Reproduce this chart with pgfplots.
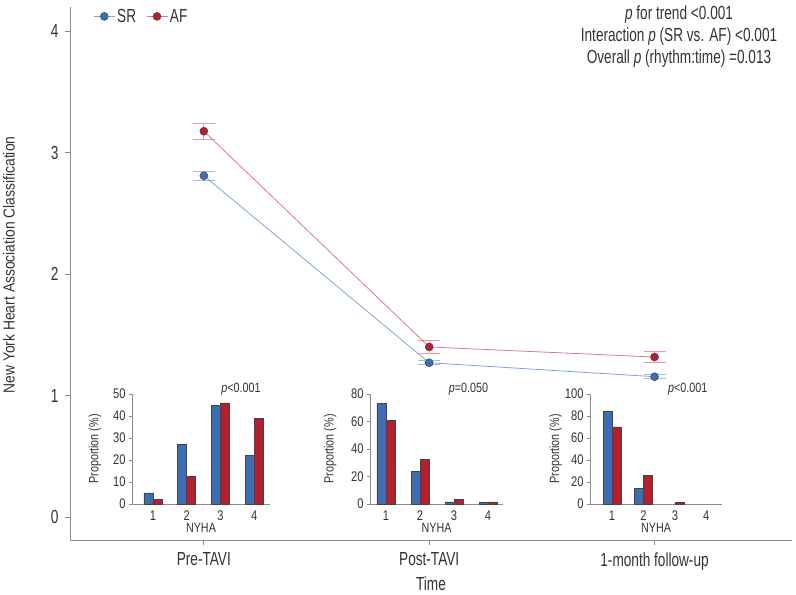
\documentclass[border=0pt]{standalone}
\usepackage{fontspec}
\setmainfont{Liberation Sans}[FakeStretch=0.72]
\newfontfamily\insetfont{Liberation Sans}[FakeStretch=0.8]
\newfontfamily\ylabfont{Liberation Sans}[FakeStretch=0.87]
\usepackage{pgfplots}
\pgfplotsset{compat=1.18}
\definecolor{srfill}{HTML}{3D6DB3}
\definecolor{affill}{HTML}{B5202E}
\definecolor{srline}{HTML}{7FA6DA}
\definecolor{afline}{HTML}{E07882}
\definecolor{srerr}{HTML}{9DBCE6}
\definecolor{aferr}{HTML}{EE9AA2}
\definecolor{axgray}{HTML}{8C8C8C}
\definecolor{txt}{HTML}{333333}
\definecolor{edge}{HTML}{444444}

\pgfplotstableread{
x y e
1 2.810 0.037
2 1.270 0.018
3 1.155 0.017
}\srdata
\pgfplotstableread{
x y e
1 3.177 0.067
2 1.400 0.050
3 1.317 0.045
}\afdata

\tikzset{pnode/.style={font=\insetfont\fontsize{13.5}{14}\selectfont, text=txt}}
\pgfplotsset{
  insetstyle/.style={
    anchor=south west, scale only axis, height=110bp,
    ymin=0, axis lines=left, axis line style={-, axgray},
    xtick={1,2,3,4}, xtick style={draw=none},
    ytick style={axgray}, tick align=outside, major tick length=3bp,
    ticklabel style={font=\insetfont\fontsize{14}{15}\selectfont, text=txt},
    /pgf/number format/assume math mode=true,
    xlabel={NYHA}, ylabel={Proportion (\%)},
    label style={font=\insetfont\fontsize{13.5}{14}\selectfont, text=txt},
    xlabel style={at={(axis description cs:0.5,-0.218)}, anchor=center},
    ybar=0pt, bar width=9bp,
    clip=false,
  },
  srbar/.style={fill=srfill, draw=edge, line width=0.4bp},
  afbar/.style={fill=affill, draw=edge, line width=0.4bp},
}

\begin{document}
\begin{tikzpicture}
\useasboundingbox (0,0) rectangle (796bp,595bp);
\begin{axis}[
  at={(70bp,55bp)}, anchor=south west, scale only axis,
  width=722bp, height=533bp,
  xmin=0.406, xmax=3.61, ymin=-0.19, ymax=4.2,
  axis lines=left, axis line style={-, axgray, line width=0.8bp},
  xtick={1,2,3}, xticklabels={Pre-TAVI, Post-TAVI, 1-month follow-up},
  ytick={0,1,2,3,4},
  tick style={axgray, line width=0.8bp}, tick align=outside, major tick length=5bp,
  ticklabel style={font=\fontsize{19}{21}\selectfont, text=txt},
  xticklabel style={yshift=-4bp},
  yticklabel style={xshift=-3bp},
  /pgf/number format/assume math mode=true,
  xlabel={Time}, ylabel={\ylabfont New York Heart Association Classification},
  label style={font=\fontsize{19}{21}\selectfont, text=txt},
  xlabel style={at={(axis description cs:0.5,-0.0826)}, anchor=center},
  ylabel style={at={(axis description cs:-0.0845,0.516)}, anchor=center,
    font=\ylabfont\fontsize{16}{18}\selectfont},
  legend columns=2,
  legend style={draw=none, fill=none, at={(0.028,1.004)}, anchor=north west,
    font=\fontsize{19}{21}\selectfont, text=txt,
    /tikz/every even column/.append style={column sep=8bp}},
  legend image code/.code={
    \draw[mark repeat=2, mark phase=2] plot coordinates {(0bp,0bp) (10.5bp,0bp) (21bp,0bp)};},
  clip=false,
]
\addplot[forget plot, only marks, mark=none,
  error bars/.cd, y dir=both, y explicit, error mark=|,
  error bar style={draw=srerr, line width=1bp},
  error mark options={draw=srerr, mark size=11bp, line width=1bp}]
  table[x=x, y=y, y error=e] {\srdata};
\addplot[forget plot, only marks, mark=none,
  error bars/.cd, y dir=both, y explicit, error mark=|,
  error bar style={draw=aferr, line width=1bp},
  error mark options={draw=aferr, mark size=11bp, line width=1bp}]
  table[x=x, y=y, y error=e] {\afdata};
\addplot[srline, line width=0.8bp, mark=*, mark size=4bp,
  mark options={fill=srfill, draw=edge, line width=0.5bp}]
  table[x=x, y=y] {\srdata};
\addlegendentry{SR}
\addplot[afline, line width=0.8bp, mark=*, mark size=4bp,
  mark options={fill=affill, draw=edge, line width=0.5bp}]
  table[x=x, y=y] {\afdata};
\addlegendentry{AF}
\node[align=center, font=\fontsize{19}{22}\selectfont, text=txt]
  at (rel axis cs:0.8435,0.945)
  {\textit{p} for trend <0.001\\
   Interaction \textit{p} (SR vs. AF) <0.001\\
   Overall \textit{p} (rhythm:time) =0.013};
\end{axis}

% inset 1: Pre-TAVI
\begin{axis}[insetstyle, at={(132bp,91bp)}, width=138bp,
  ymax=50, ytick={0,10,20,30,40,50}, xmin=0.38, xmax=4.47,
  ylabel style={at={(axis description cs:-0.268,0.5)}, anchor=center}]
\addplot[srbar] coordinates {(1,5) (2,27) (3,45) (4,22)};
\addplot[afbar] coordinates {(1,2) (2,12.5) (3,46) (4,39)};
\node[pnode] at (rel axis cs:0.79,1.04) {\textit{p}<0.001};
\end{axis}

% inset 2: Post-TAVI
\begin{axis}[insetstyle, at={(370bp,91bp)}, width=133bp,
  ymax=80, ytick={0,20,40,60,80}, xmin=0.53, xmax=4.44,
  ylabel style={at={(axis description cs:-0.30,0.5)}, anchor=center}]
\addplot[srbar] coordinates {(1,73) (2,23.5) (3,1.5) (4,1)};
\addplot[afbar] coordinates {(1,61) (2,32.5) (3,3.5) (4,1.5)};
\node[pnode] at (rel axis cs:0.74,1.04) {\textit{p}=0.050};
\end{axis}

% inset 3: 1-month follow-up (zero-height bars are not drawn)
\begin{axis}[insetstyle, at={(590bp,91bp)}, width=132bp,
  ymax=100, ytick={0,20,40,60,80,100}, xmin=0.3, xmax=4.5,
  ylabel style={at={(axis description cs:-0.26,0.5)}, anchor=center}]
\addplot[srbar] coordinates {(1,84) (2,14)};
\addplot[afbar] coordinates {(1,70) (2,26) (3,1.5)};
\node[pnode] at (rel axis cs:0.74,1.04) {\textit{p}<0.001};
\end{axis}
\end{tikzpicture}
\end{document}
